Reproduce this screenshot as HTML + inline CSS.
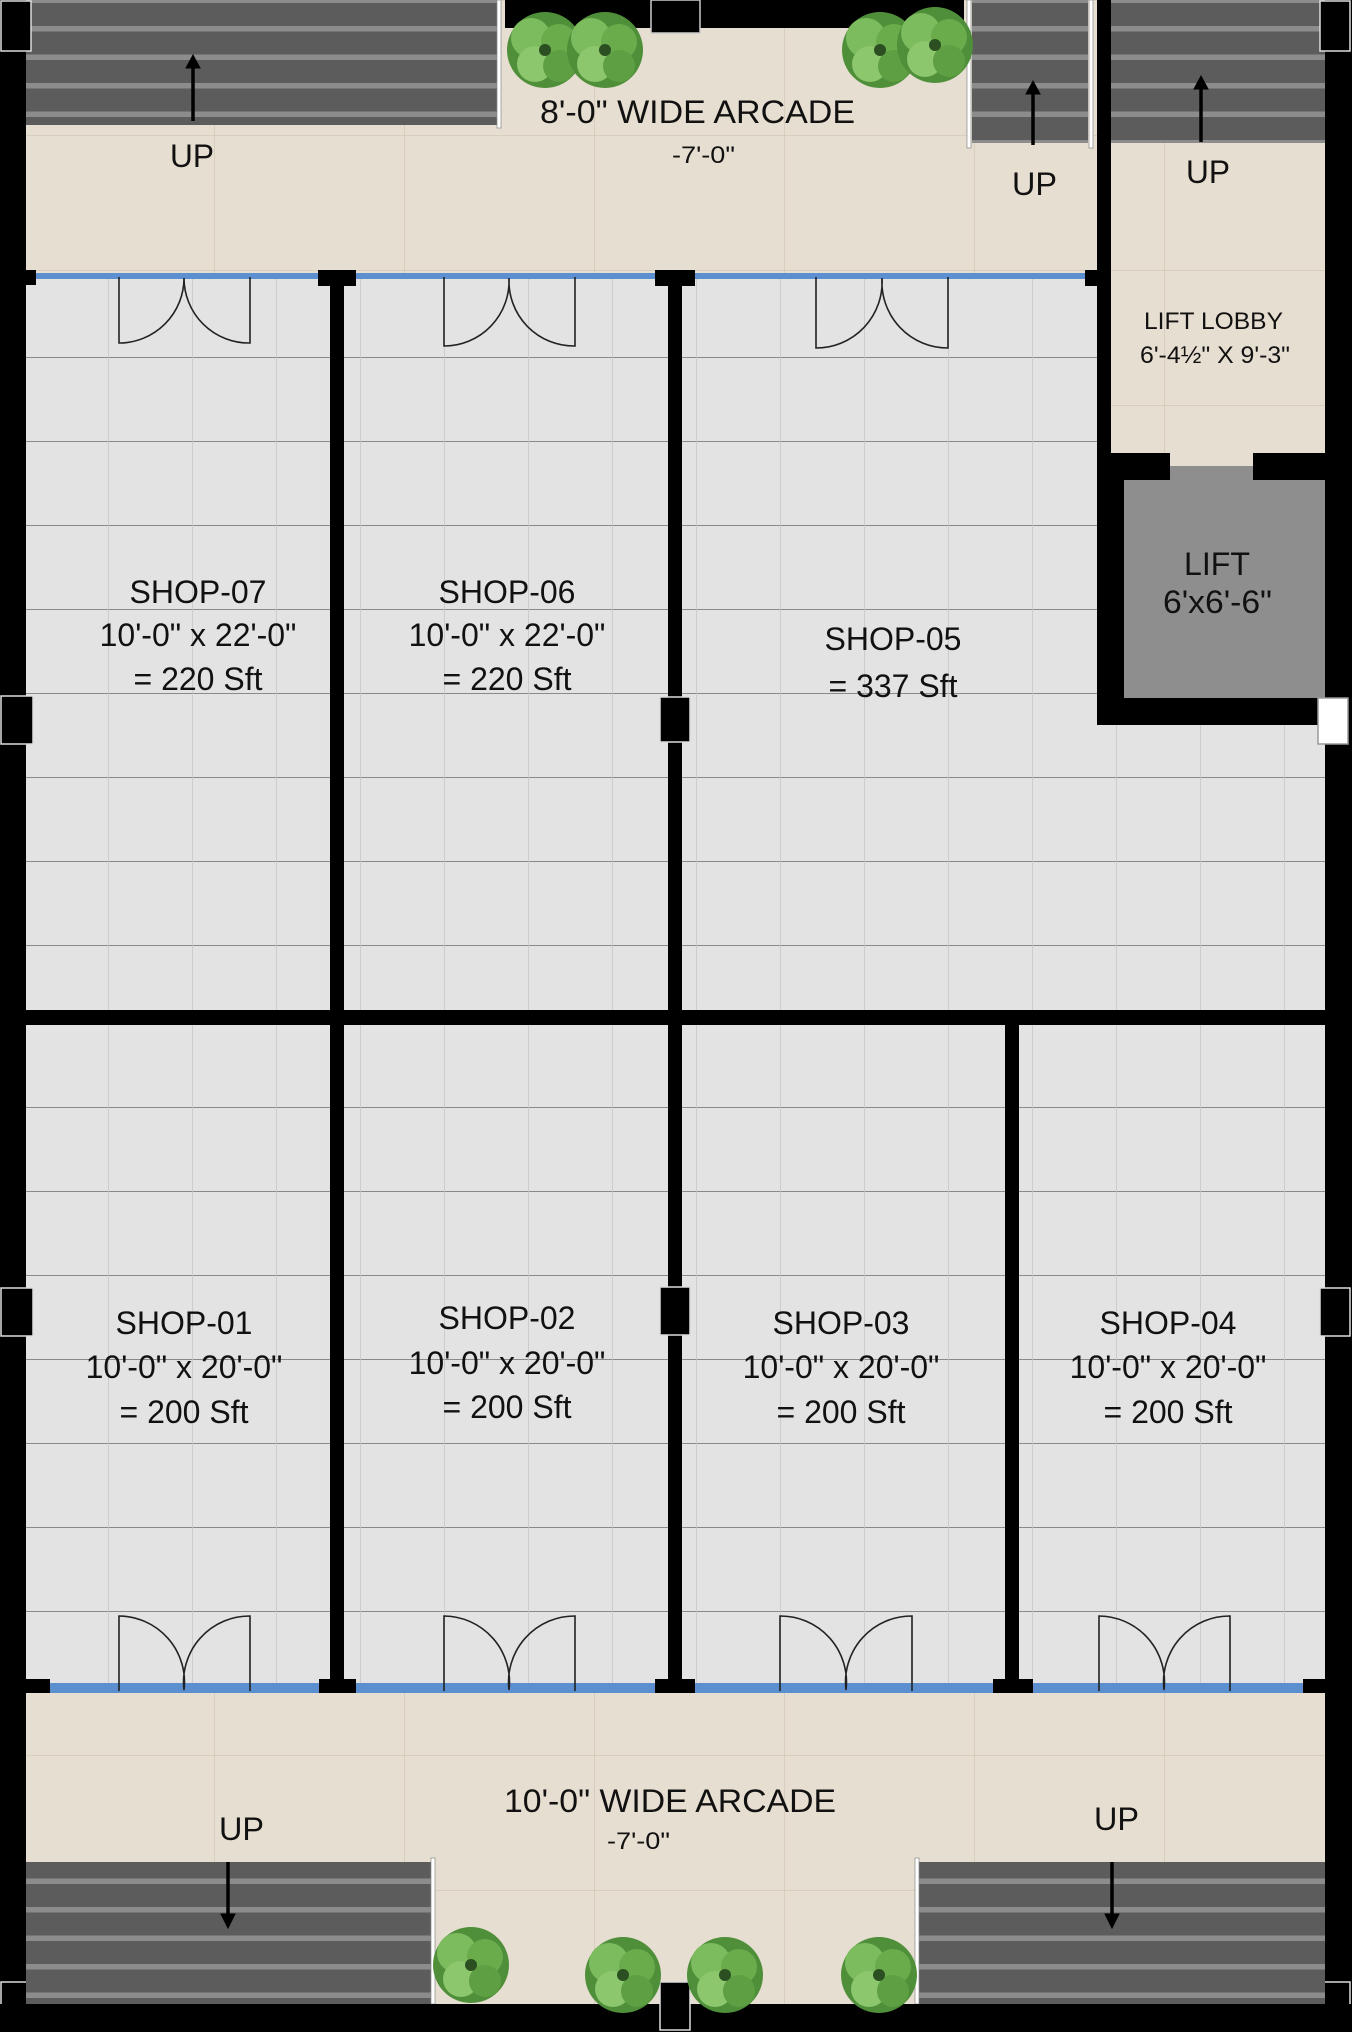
<!DOCTYPE html>
<html><head><meta charset="utf-8"><style>
html,body{margin:0;padding:0;background:#000}
svg{display:block}
text{font-family:"Liberation Sans Narrow","Liberation Sans",sans-serif;fill:#111}
</style></head><body>
<svg width="1352" height="2032" viewBox="0 0 1352 2032" xmlns="http://www.w3.org/2000/svg">
<defs>
<pattern id="tileA" x="24" y="21" width="84" height="84" patternUnits="userSpaceOnUse">
<rect width="84" height="84" fill="#e3e3e3"/>
<line x1="0" y1="0" x2="84" y2="0" stroke="#8a8a8a" stroke-width="2"/>
<line x1="0" y1="0" x2="0" y2="84" stroke="#c4c4c4" stroke-width="1.5"/>
</pattern>
<pattern id="tileB" x="24" y="15" width="84" height="84" patternUnits="userSpaceOnUse">
<rect width="84" height="84" fill="#e3e3e3"/>
<line x1="0" y1="0" x2="84" y2="0" stroke="#8a8a8a" stroke-width="2"/>
<line x1="0" y1="0" x2="0" y2="84" stroke="#c4c4c4" stroke-width="1.5"/>
</pattern>
<pattern id="beige" x="24" y="0" width="190" height="135" patternUnits="userSpaceOnUse">
<rect width="190" height="135" fill="#e6ded0"/>
<line x1="0" y1="0" x2="0" y2="135" stroke="#d2c9b9" stroke-width="1.5"/>
<line x1="0" y1="0" x2="190" y2="0" stroke="#d2c9b9" stroke-width="1.5"/>
</pattern>
<pattern id="stairT" x="0" y="0" width="1352" height="28.5" patternUnits="userSpaceOnUse">
<rect width="1352" height="28.5" fill="#8c8c8c"/>
<rect y="3" width="1352" height="23" fill="#5c5c5c"/>
</pattern>
<g id="bush">
<circle cx="0" cy="0" r="38" fill="#4f8f3a"/>
<circle cx="-14" cy="-12" r="20" fill="#7dbb5f"/>
<circle cx="14" cy="-8" r="18" fill="#6aab4c"/>
<circle cx="-10" cy="14" r="18" fill="#8cc66d"/>
<circle cx="14" cy="16" r="16" fill="#5e9f43"/>
<circle cx="0" cy="0" r="6" fill="#2b4f20"/>
</g>
</defs>
<rect width="1352" height="2032" fill="#000"/>
<!-- top arcade -->
<rect x="26" y="0" width="1071" height="276" fill="url(#beige)"/>
<rect x="505" y="0" width="459" height="28" fill="#000"/>
<rect x="651" y="0" width="49" height="33" fill="#000" stroke="#ccc" stroke-width="1.5"/>
<rect x="26" y="0" width="472" height="125" fill="url(#stairT)"/>
<rect x="497" y="0" width="4" height="128" fill="#fff" stroke="#888" stroke-width="0.7"/>
<rect x="972" y="0" width="116" height="143" fill="url(#stairT)"/>
<rect x="967" y="0" width="4" height="148" fill="#fff" stroke="#888" stroke-width="0.7"/>
<rect x="1089" y="0" width="4" height="148" fill="#fff" stroke="#888" stroke-width="0.7"/>
<rect x="1097" y="0" width="14" height="725" fill="#000"/>
<!-- lobby -->
<rect x="1111" y="0" width="214" height="470" fill="url(#beige)"/>
<rect x="1111" y="0" width="214" height="143" fill="url(#stairT)"/>
<rect x="1097" y="453" width="73" height="27" fill="#000"/>
<rect x="1253" y="453" width="72" height="27" fill="#000"/>
<rect x="1124" y="480" width="201" height="218" fill="#8e8e8e"/>
<rect x="1170" y="466" width="83" height="14" fill="#8e8e8e"/>
<rect x="1097" y="453" width="27" height="272" fill="#000"/>
<rect x="1097" y="698" width="228" height="27" fill="#000"/>
<!-- bushes top -->
<use href="#bush" x="545" y="50"/>
<use href="#bush" x="605" y="50"/>
<use href="#bush" x="880" y="50"/>
<use href="#bush" x="935" y="45"/>
<!-- shops top -->
<rect x="26" y="279" width="1071" height="731" fill="url(#tileA)"/>
<rect x="1097" y="725" width="228" height="285" fill="url(#tileA)"/>
<!-- shops bottom -->
<rect x="26" y="1025" width="1299" height="660" fill="url(#tileB)"/>
<!-- walls -->
<rect x="0" y="0" width="26" height="2032" fill="#000"/>
<rect x="1325" y="0" width="27" height="2032" fill="#000"/>
<rect x="330" y="276" width="14" height="1412" fill="#000"/>
<rect x="668" y="276" width="14" height="1412" fill="#000"/>
<rect x="26" y="1010" width="1299" height="14" fill="#000"/>
<rect x="1005" y="1010" width="14" height="678" fill="#000"/>
<!-- glazing top -->
<rect x="26" y="273" width="1060" height="6" fill="#5b8fd0"/>
<rect x="26" y="270" width="10" height="15" fill="#000"/>
<rect x="318" y="270" width="38" height="16" fill="#000"/>
<rect x="655" y="270" width="40" height="16" fill="#000"/>
<rect x="1085" y="270" width="14" height="16" fill="#000"/>
<!-- glazing bottom -->
<rect x="26" y="1683" width="1299" height="10" fill="#5b8fd0"/>
<rect x="26" y="1679" width="24" height="15" fill="#000"/>
<rect x="319" y="1679" width="37" height="15" fill="#000"/>
<rect x="655" y="1679" width="40" height="15" fill="#000"/>
<rect x="993" y="1679" width="40" height="15" fill="#000"/>
<rect x="1303" y="1679" width="22" height="15" fill="#000"/>
<!-- column markers -->
<g stroke="#ddd" stroke-width="1.5" fill="#000">
<rect x="1" y="1" width="30" height="50"/>
<rect x="1320" y="1" width="30" height="50"/>
<rect x="1" y="696" width="32" height="48"/>
<rect x="660" y="697" width="30" height="45"/>
<rect x="1" y="1288" width="32" height="48"/>
<rect x="660" y="1287" width="30" height="48"/>
<rect x="1320" y="1288" width="30" height="48"/>
<rect x="1" y="1982" width="30" height="48"/>
<rect x="660" y="1982" width="30" height="48"/>
<rect x="1320" y="1982" width="30" height="48"/>
</g>
<rect x="1318" y="698" width="30" height="46" fill="#fff" stroke="#999" stroke-width="1.5"/>
<!-- doors -->
<g fill="none" stroke="#222" stroke-width="1.6">
<path d="M119 277 V343 A65 65 0 0 0 184 278 A65 65 0 0 0 250 343 V277"/>
<path d="M444 277 V346 A65 65 0 0 0 509 278 A65 65 0 0 0 575 346 V277"/>
<path d="M816 277 V348 A66 66 0 0 0 882 278 A66 66 0 0 0 948 348 V277"/>
<path d="M119 1691 V1616 A66 66 0 0 1 184 1690 A66 66 0 0 1 250 1616 V1691"/>
<path d="M444 1691 V1616 A66 66 0 0 1 509 1690 A66 66 0 0 1 575 1616 V1691"/>
<path d="M780 1691 V1616 A66 66 0 0 1 846 1690 A66 66 0 0 1 912 1616 V1691"/>
<path d="M1099 1691 V1616 A66 66 0 0 1 1164 1690 A66 66 0 0 1 1230 1616 V1691"/>
</g>
<!-- bottom arcade -->
<rect x="26" y="1693" width="1299" height="311" fill="url(#beige)"/>
<rect x="26" y="1862" width="405" height="142" fill="url(#stairT)"/>
<rect x="919" y="1862" width="406" height="142" fill="url(#stairT)"/>
<rect x="431" y="1858" width="4" height="146" fill="#fff" stroke="#888" stroke-width="0.7"/>
<rect x="915" y="1858" width="4" height="146" fill="#fff" stroke="#888" stroke-width="0.7"/>
<rect x="0" y="2004" width="1352" height="28" fill="#000"/>
<rect x="660" y="1982" width="30" height="48" fill="#000" stroke="#ddd" stroke-width="1.5"/>
<use href="#bush" x="471" y="1965"/>
<use href="#bush" x="623" y="1975"/>
<use href="#bush" x="725" y="1975"/>
<use href="#bush" x="879" y="1975"/>
<!-- arrows -->
<g stroke="#000" stroke-width="3.5" fill="#000">
<line x1="193" y1="121" x2="193" y2="66"/><path d="M186 68 L193 55 L200 68 Z" stroke-width="1"/>
<line x1="1033" y1="145" x2="1033" y2="92"/><path d="M1026 94 L1033 81 L1040 94 Z" stroke-width="1"/>
<line x1="1201" y1="142" x2="1201" y2="87"/><path d="M1194 89 L1201 76 L1208 89 Z" stroke-width="1"/>
<line x1="228" y1="1862" x2="228" y2="1916"/><path d="M221 1914 L228 1928 L235 1914 Z" stroke-width="1"/>
<line x1="1112" y1="1862" x2="1112" y2="1916"/><path d="M1105 1914 L1112 1928 L1119 1914 Z" stroke-width="1"/>
</g>
<!-- labels -->
<g font-size="32">
<text x="540" y="123" textLength="315" lengthAdjust="spacingAndGlyphs">8'-0" WIDE ARCADE</text>
<text x="504" y="1812" textLength="332" lengthAdjust="spacingAndGlyphs">10'-0" WIDE ARCADE</text>
<text x="170" y="167" textLength="44" lengthAdjust="spacingAndGlyphs">UP</text>
<text x="1012" y="195" textLength="45" lengthAdjust="spacingAndGlyphs">UP</text>
<text x="1186" y="183" textLength="44" lengthAdjust="spacingAndGlyphs">UP</text>
<text x="219" y="1840" textLength="45" lengthAdjust="spacingAndGlyphs">UP</text>
<text x="1094" y="1830" textLength="45" lengthAdjust="spacingAndGlyphs">UP</text>
<text x="1184" y="575" textLength="66" lengthAdjust="spacingAndGlyphs">LIFT</text>
<text x="1163" y="613" textLength="109" lengthAdjust="spacingAndGlyphs">6'x6'-6"</text>
</g>
<g font-size="24">
<text x="672" y="163" textLength="63" lengthAdjust="spacingAndGlyphs">-7'-0"</text>
<text x="607" y="1849" textLength="63" lengthAdjust="spacingAndGlyphs">-7'-0"</text>
<text x="1144" y="329" textLength="139" lengthAdjust="spacingAndGlyphs">LIFT LOBBY</text>
<text x="1140" y="363" textLength="150" lengthAdjust="spacingAndGlyphs">6'-4½" X 9'-3"</text>
</g>
<g font-size="32" text-anchor="middle">
<text x="198" y="603">SHOP-07</text>
<text x="198" y="646">10'-0" x 22'-0"</text>
<text x="198" y="690">= 220 Sft</text>
<text x="507" y="603">SHOP-06</text>
<text x="507" y="646">10'-0" x 22'-0"</text>
<text x="507" y="690">= 220 Sft</text>
<text x="893" y="650">SHOP-05</text>
<text x="893" y="697">= 337 Sft</text>
<text x="184" y="1334">SHOP-01</text>
<text x="184" y="1378">10'-0" x 20'-0"</text>
<text x="184" y="1423">= 200 Sft</text>
<text x="507" y="1329">SHOP-02</text>
<text x="507" y="1374">10'-0" x 20'-0"</text>
<text x="507" y="1418">= 200 Sft</text>
<text x="841" y="1334">SHOP-03</text>
<text x="841" y="1378">10'-0" x 20'-0"</text>
<text x="841" y="1423">= 200 Sft</text>
<text x="1168" y="1334">SHOP-04</text>
<text x="1168" y="1378">10'-0" x 20'-0"</text>
<text x="1168" y="1423">= 200 Sft</text>
</g>
</svg>
</body></html>
